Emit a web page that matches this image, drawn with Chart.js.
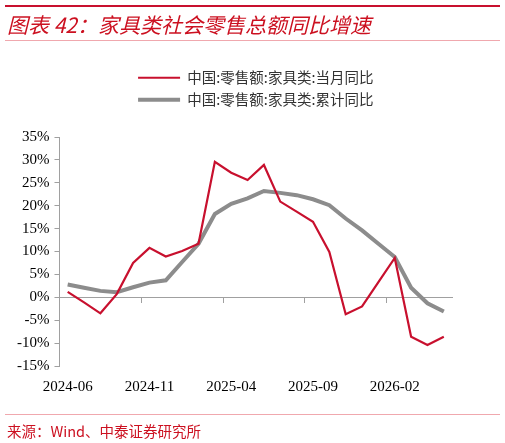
<!DOCTYPE html>
<html>
<head>
<meta charset="utf-8">
<script src="https://cdn.jsdelivr.net/npm/chart.js@4/dist/chart.umd.min.js"></script>
<style>
  html, body { margin: 0; padding: 0; background: #fff; }
  .wrap { position: relative; width: 505px; height: 443px; overflow: hidden; }
  #chart { position: absolute; left: 0; top: 0; }
  .rule { position: absolute; left: 5px; width: 495px; }
  .rule-top { top: 5px; height: 2px; background: #c8102e; }
  .rule-light { height: 1px; background: #f0a8ae; }
  .title {
    position: absolute; left: 7px; top: 12px; white-space: nowrap;
    font: italic 21px/24px 'Noto Sans CJK SC', sans-serif; color: #cc1020;
  }
  .source {
    position: absolute; left: 7px; top: 421px; white-space: nowrap;
    font: 14.5px/20px 'Noto Sans CJK SC', sans-serif; color: #cc1020;
  }
</style>
</head>
<body>
<div class="wrap">
  <canvas id="chart" width="505" height="443"></canvas>
  <div class="rule rule-top"></div>
  <div class="title">图表 42：家具类社会零售总额同比增速</div>
  <div class="rule rule-light" style="top:40px"></div>
  <div class="rule rule-light" style="top:414px"></div>
  <div class="source">来源：Wind、中泰证券研究所</div>
</div>
<script>
const months = [
  '2024-06', '2024-07', '2024-08', '2024-09', '2024-10', '2024-11',
  '2024-12', '2025-01', '2025-02', '2025-03', '2025-04', '2025-05',
  '2025-06', '2025-07', '2025-08', '2025-09', '2025-10', '2025-11',
  '2025-12', '2026-01', '2026-02', '2026-03', '2026-04', '2026-05',
];
const monthlyYoY = [
  1.2, -1.1, -3.5, 0.7, 7.5, 10.8, 8.9, 10.1, 11.7, 29.6, 27.2, 25.6,
  28.9, 20.9, 18.7, 16.5, 9.9, -3.7, -2.0, 3.3, 8.6, -8.6, -10.4, -8.6,
];
const cumulativeYoY = [
  2.8, 2.1, 1.4, 1.1, 2.2, 3.2, 3.7, 7.7, 11.7, 18.2, 20.4, 21.6,
  23.2, 22.8, 22.3, 21.4, 20.1, 17.2, 14.6, 11.7, 8.8, 2.1, -1.3, -3.1,
];
const seriesNames = ['中国:零售额:家具类:当月同比', '中国:零售额:家具类:累计同比'];
const xTickLabels = ['2024-06', '2024-11', '2025-04', '2025-09', '2026-02'];
const yTickValues = [-15, -10, -5, 0, 5, 10, 15, 20, 25, 30, 35];

(function () {
  const red = '#c8102e';
  const grey = '#8c8c8c';
  const axisGrey = '#a0a0a0';
  const tickFont = { family: 'Liberation Serif', size: 15 };

  Chart.defaults.font.family = "'Noto Sans CJK SC', sans-serif";

  new Chart(document.getElementById('chart'), {
    type: 'line',
    data: {
      labels: months,
      datasets: [
        {
          label: seriesNames[0],
          data: monthlyYoY,
          borderColor: red,
          backgroundColor: red,
          borderWidth: 2.2,
          pointRadius: 0,
          tension: 0,
        },
        {
          label: seriesNames[1],
          data: cumulativeYoY,
          borderColor: grey,
          backgroundColor: grey,
          borderWidth: 4,
          pointRadius: 0,
          tension: 0,
        },
      ],
    },
    options: {
      responsive: false,
      animation: false,
      layout: { padding: { top: 63, left: 12, right: 53, bottom: 35 } },
      plugins: {
        tooltip: { enabled: false },
        legend: {
          position: 'top',
          fullSize: false,
          labels: {
            usePointStyle: true,
            pointStyle: 'line',
            pointStyleWidth: 42,
            padding: 7.5,
            color: '#333',
            font: { size: 14.5 },
          },
        },
        // empty spacer between the legend and the plot
        subtitle: {
          display: true,
          text: '',
          weight: 500,
          padding: 0,
          font: { size: 20, lineHeight: 1 },
        },
      },
      scales: {
        x: {
          type: 'category',
          position: { y: 0 },
          offset: true,
          ticks: { display: false },
          grid: {
            offset: true,
            drawOnChartArea: false,
            tickLength: 5,
            color: (ctx) => (ctx.index > 0 && xTickLabels.includes(months[ctx.index]) ? axisGrey : 'rgba(0,0,0,0)'),
          },
          border: { color: axisGrey },
        },
        x2: {
          type: 'category',
          axis: 'x',
          position: 'bottom',
          offset: true,
          grid: { display: false, drawTicks: false },
          border: { display: false },
          ticks: {
            autoSkip: false,
            maxRotation: 0,
            padding: 12,
            color: '#000',
            font: tickFont,
            callback: (v, i) => (xTickLabels.includes(months[i]) ? months[i] : ''),
          },
        },
        y: {
          min: -15,
          max: 35,
          afterBuildTicks: (scale) => {
            scale.ticks = yTickValues.map((v) => ({ value: v }));
          },
          ticks: {
            padding: 5,
            color: '#000',
            font: tickFont,
            callback: (v) => v + '%',
          },
          grid: { drawOnChartArea: false, tickLength: 5, color: axisGrey },
          border: { color: axisGrey },
        },
      },
    },
  });
})();
</script>
</body>
</html>
